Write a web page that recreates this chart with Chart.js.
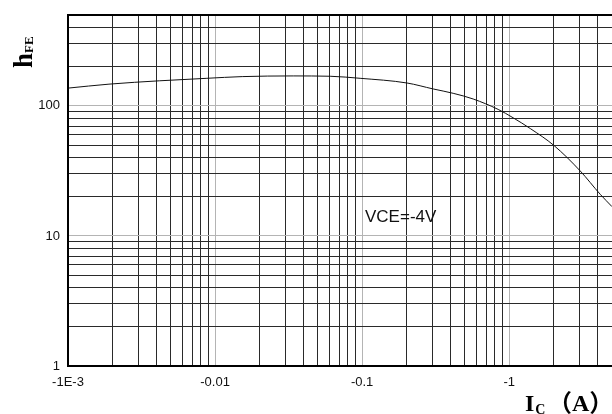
<!DOCTYPE html>
<html>
<head>
<meta charset="utf-8">
<script src="https://cdn.jsdelivr.net/npm/chart.js@4"></script>
<style>
  html, body { margin: 0; padding: 0; background: #fff; }
  #wrap { width: 612px; height: 414px; }
</style>
</head>
<body>
<div id="wrap"><canvas id="c" width="612" height="414"></canvas></div>
<script>
// collector current magnitude (A)
const icValues = [0.001, 0.0019, 0.0042, 0.0088, 0.0153, 0.034, 0.0606, 0.0969, 0.202, 0.304, 0.416, 0.569, 0.841, 1.064, 1.39, 2.02, 3.04, 4.16, 5.0];
const hfeValues = [137, 147, 156, 163, 168, 170, 169, 163, 150, 135, 125, 113, 94, 81, 67, 49.5, 31.6, 20.9, 16.8];

// axis ranges and labelled decades
const xRange = [0.001, 5];
const yRange = [1, 500];
const xDecades = [0.001, 0.01, 0.1, 1];
const xTickLabels = ["-1E-3", "-0.01", "-0.1", "-1"];
const yDecades = [1, 10, 100];
const yTickLabels = ["1", "10", "100"];
const curveNote = "VCE=-4V";

// grid values 1..9 per decade inside the range
function gridValues(min, max) {
  const out = [];
  for (let e = Math.floor(Math.log10(min)); e <= Math.ceil(Math.log10(max)); e++) {
    for (let m = 1; m <= 9; m++) {
      const v = +(m * Math.pow(10, e)).toPrecision(6);
      if (v >= min - 1e-12 && v <= max + 1e-9) out.push(v);
    }
  }
  return out;
}

function isDecade(v) {
  const l = Math.log10(v);
  return Math.abs(l - Math.round(l)) < 1e-6;
}

function labelFor(v, decades, labels) {
  const i = decades.findIndex(d => Math.abs(d - v) / d < 1e-6);
  return i >= 0 ? labels[i] : "";
}

const gridColor = ctx => (ctx.tick && isDecade(ctx.tick.value) ? "#b4b4b4" : "#2a2a2a");

// frame, axis titles and the note
const extras = {
  id: "extras",
  afterDraw(chart) {
    const ctx = chart.ctx;
    const a = chart.chartArea;
    ctx.save();
    // frame: left, top, bottom (right edge is cut off in the original)
    ctx.strokeStyle = "#000";
    ctx.lineWidth = 2;
    ctx.beginPath();
    ctx.moveTo(a.right + 2, a.top);
    ctx.lineTo(a.left, a.top);
    ctx.lineTo(a.left, a.bottom);
    ctx.lineTo(a.right + 2, a.bottom);
    ctx.stroke();

    // hFE, rotated
    ctx.fillStyle = "#000";
    ctx.translate(32, 68);
    ctx.rotate(-Math.PI / 2);
    ctx.textBaseline = "alphabetic";
    ctx.textAlign = "left";
    ctx.font = "bold 27px 'Liberation Serif', serif";
    ctx.fillText("h", 0, 0);
    const hw = ctx.measureText("h").width;
    ctx.font = "bold 13px 'Liberation Serif', serif";
    ctx.fillText("FE", hw, 1);
    ctx.setTransform(1, 0, 0, 1, 0, 0);

    // IC (A)
    ctx.font = "bold 24px 'Liberation Serif', serif";
    ctx.fillText("I", 525, 411);
    const iw = ctx.measureText("I").width;
    ctx.font = "bold 14px 'Liberation Serif', serif";
    ctx.fillText("C", 525 + iw + 1, 414);
    ctx.font = "bold 24px 'Liberation Serif', 'Noto Sans CJK SC', serif";
    ctx.fillText("（A）", 548, 411);

    // test condition
    ctx.font = "17px 'Liberation Sans', Arial, sans-serif";
    ctx.fillStyle = "#111";
    ctx.fillText(curveNote, 365, 222);
    ctx.restore();
  }
};

new Chart(document.getElementById("c"), {
  type: "line",
  data: {
    datasets: [{
      data: icValues.map((x, i) => ({ x: x, y: hfeValues[i] })),
      borderColor: "#111",
      borderWidth: 1,
      pointRadius: 0,
      cubicInterpolationMode: "monotone",
      fill: false
    }]
  },
  options: {
    responsive: false,
    animation: false,
    devicePixelRatio: 1,
    layout: { padding: { top: 15, right: 0, left: 0, bottom: 0 } },
    plugins: { legend: { display: false }, tooltip: { enabled: false } },
    scales: {
      x: {
        type: "logarithmic",
        min: xRange[0],
        max: xRange[1],
        afterBuildTicks: s => { s.ticks = gridValues(xRange[0], xRange[1]).map(v => ({ value: v })); },
        afterFit: s => { s.height = 48; s.paddingRight = 0; s.paddingLeft = 0; },
        grid: { color: gridColor, lineWidth: 1, drawTicks: false },
        border: { display: false },
        ticks: {
          autoSkip: false,
          maxRotation: 0,
          padding: 9,
          color: "#111",
          font: { family: "'Liberation Sans', Arial, sans-serif", size: 13 },
          callback: v => labelFor(v, xDecades, xTickLabels)
        }
      },
      y: {
        type: "logarithmic",
        min: yRange[0],
        max: yRange[1],
        afterBuildTicks: s => { s.ticks = gridValues(yRange[0], yRange[1]).map(v => ({ value: v })); },
        afterFit: s => { s.width = 68; s.paddingTop = 0; s.paddingBottom = 0; },
        grid: { color: gridColor, lineWidth: 1, drawTicks: false },
        border: { display: false },
        ticks: {
          autoSkip: false,
          padding: 8,
          color: "#111",
          font: { family: "'Liberation Sans', Arial, sans-serif", size: 13 },
          callback: v => labelFor(v, yDecades, yTickLabels)
        }
      }
    }
  },
  plugins: [extras]
});
</script>
</body>
</html>
